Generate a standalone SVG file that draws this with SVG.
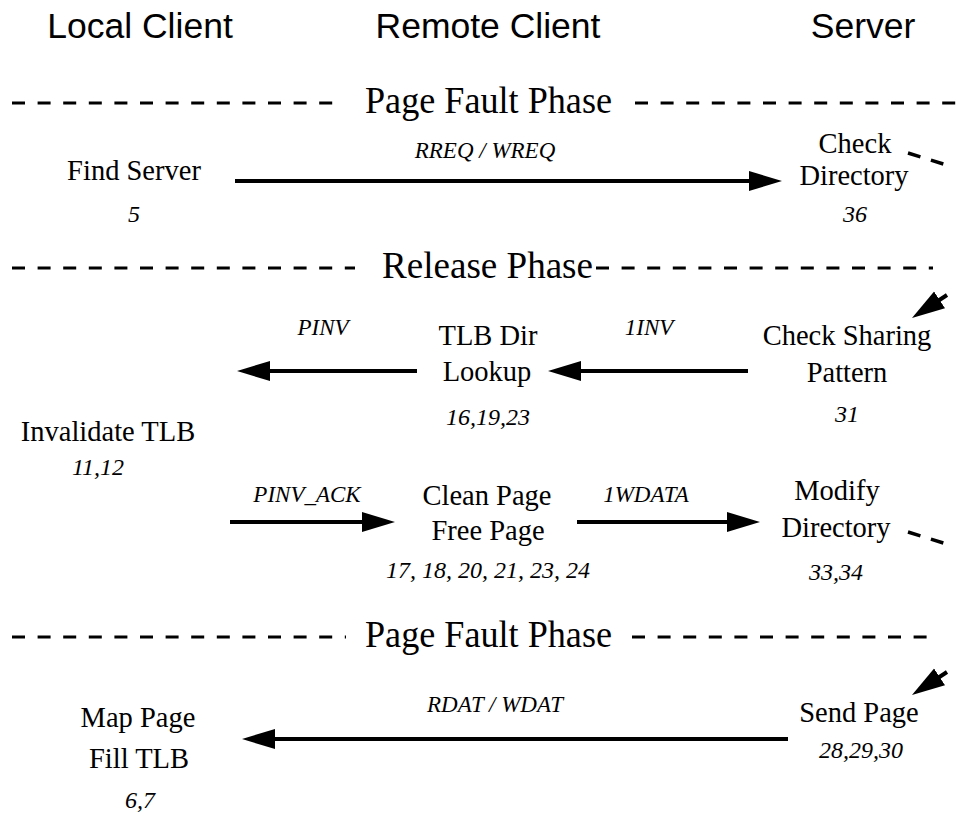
<svg xmlns="http://www.w3.org/2000/svg" width="958" height="817" viewBox="0 0 958 817">
<style>
.hdr{font-family:"Liberation Sans",Arial,sans-serif;font-size:35.5px;fill:#000;text-anchor:middle}
.phase{font-family:"Liberation Serif","Times New Roman",serif;font-size:38px;fill:#000}
.node{font-family:"Liberation Serif","Times New Roman",serif;font-size:28.5px;fill:#000;text-anchor:middle}
.num{font-family:"Liberation Serif","Times New Roman",serif;font-size:24px;font-style:italic;fill:#000;text-anchor:middle}
.lbl{font-family:"Liberation Serif","Times New Roman",serif;font-size:23px;font-style:italic;fill:#000;text-anchor:middle}
.dash{stroke:#000;stroke-width:3;stroke-dasharray:13 12.6;fill:none}
.msg{stroke:#000;stroke-width:4;fill:none;marker-end:url(#ah)}
.cont{stroke:#000;stroke-width:3.5;stroke-dasharray:13 11;fill:none}
</style>
<defs>
<marker id="ah" markerUnits="userSpaceOnUse" markerWidth="36" markerHeight="24" refX="13" refY="11" orient="auto" viewBox="0 0 36 24">
<path d="M0,1 L33,11 L0,21 Z" fill="#000"/>
</marker>
</defs>
<rect width="958" height="817" fill="#fff"/>

<g id="headers">
<text class="hdr" x="140" y="38">Local Client</text>
<text class="hdr" x="488" y="38">Remote Client</text>
<text class="hdr" x="863" y="38">Server</text>
</g>

<g id="phase1">
<line class="dash" x1="12" y1="103" x2="340" y2="103"/>
<text class="phase" x="365" y="113" textLength="247" lengthAdjust="spacingAndGlyphs">Page Fault Phase</text>
<line class="dash" x1="635" y1="103" x2="958" y2="103"/>
</g>
<g id="phase2">
<line class="dash" x1="12" y1="268" x2="355" y2="268"/>
<text class="phase" x="382" y="278" textLength="211" lengthAdjust="spacingAndGlyphs">Release Phase</text>
<line class="dash" x1="596" y1="268" x2="933" y2="268"/>
</g>
<g id="phase3">
<line class="dash" x1="12" y1="637" x2="346" y2="637"/>
<text class="phase" x="365" y="647" textLength="247" lengthAdjust="spacingAndGlyphs">Page Fault Phase</text>
<line class="dash" x1="632" y1="637" x2="933" y2="637"/>
</g>

<g id="find-server">
<text class="node" x="134" y="180">Find Server</text>
<text class="num" x="134" y="222">5</text>
</g>
<g id="check-directory">
<text class="node" x="855" y="153">Check</text>
<text class="node" x="854" y="185">Directory</text>
<text class="num" x="855" y="222">36</text>
</g>
<g id="tlb-dir-lookup">
<text class="node" x="488" y="345">TLB Dir</text>
<text class="node" x="487" y="381">Lookup</text>
<text class="num" x="488" y="425">16,19,23</text>
</g>
<g id="check-sharing">
<text class="node" x="847" y="345">Check Sharing</text>
<text class="node" x="847" y="382">Pattern</text>
<text class="num" x="847" y="422">31</text>
</g>
<g id="invalidate-tlb">
<text class="node" x="108" y="441">Invalidate TLB</text>
<text class="num" x="98" y="475">11,12</text>
</g>
<g id="clean-free-page">
<text class="node" x="487" y="505">Clean Page</text>
<text class="node" x="488" y="540">Free Page</text>
<text class="num" x="488" y="578">17, 18, 20, 21, 23, 24</text>
</g>
<g id="modify-directory">
<text class="node" x="837" y="500">Modify</text>
<text class="node" x="836" y="537">Directory</text>
<text class="num" x="836" y="580">33,34</text>
</g>
<g id="map-page">
<text class="node" x="138" y="727">Map Page</text>
<text class="node" x="139" y="768">Fill TLB</text>
<text class="num" x="140" y="808">6,7</text>
</g>
<g id="send-page">
<text class="node" x="859" y="722">Send Page</text>
<text class="num" x="861" y="758">28,29,30</text>
</g>

<g id="connectors">
<line class="msg" x1="235" y1="181" x2="762" y2="181"/>
<text class="lbl" x="485" y="158">RREQ / WREQ</text>

<line class="cont" x1="908" y1="153" x2="948" y2="165.5"/>
<line class="msg" x1="947" y1="295" x2="928.7" y2="307"/>

<line class="msg" x1="417" y1="371" x2="257" y2="371"/>
<text class="lbl" x="323" y="335">PINV</text>
<line class="msg" x1="748" y1="371" x2="568" y2="371"/>
<text class="lbl" x="649" y="335">1INV</text>

<line class="msg" x1="230" y1="522" x2="375" y2="522"/>
<text class="lbl" x="307" y="502">PINV_ACK</text>
<line class="msg" x1="577" y1="522" x2="740" y2="522"/>
<text class="lbl" x="646" y="502">1WDATA</text>

<line class="cont" x1="908" y1="532" x2="948" y2="544.5"/>
<line class="msg" x1="947" y1="672" x2="928.7" y2="684"/>

<line class="msg" x1="788" y1="739" x2="262" y2="739"/>
<text class="lbl" x="495" y="712">RDAT / WDAT</text>
</g>
</svg>
